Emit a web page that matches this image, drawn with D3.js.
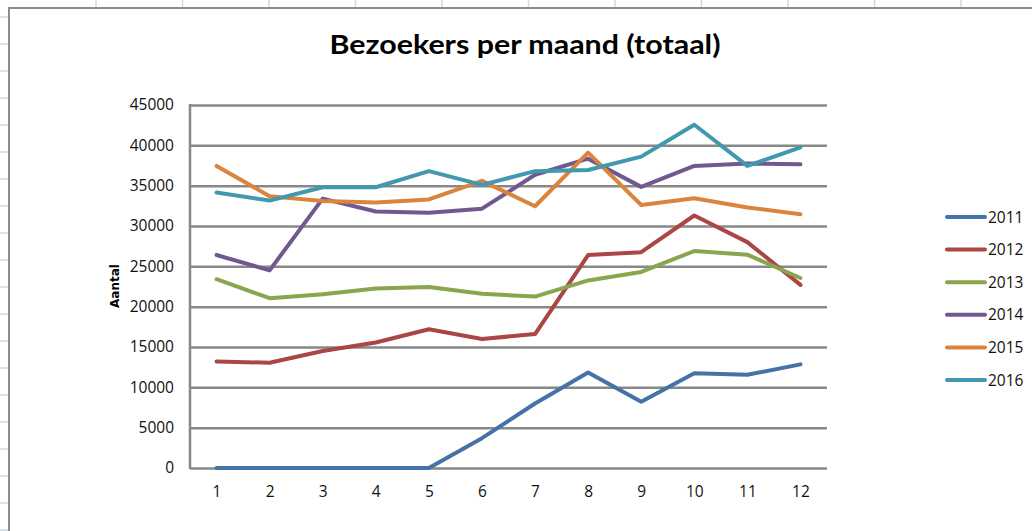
<!DOCTYPE html>
<html>
<head>
<meta charset="utf-8">
<script src="https://cdn.jsdelivr.net/npm/d3@7"></script>
<style>
  body { margin: 0; background: #fff; }
  svg { display: block; }
</style>
</head>
<body>
<svg id="CHART" width="1032" height="531"></svg>
<script>
let d3 = window.d3;

// data
const months = [1, 2, 3, 4, 5, 6, 7, 8, 9, 10, 11, 12];
const years = ["2011", "2012", "2013", "2014", "2015", "2016"];
const v2011 = [0, 0, 0, 0, 0, 3700, 8000, 11850, 8200, 11750, 11550, 12850];
const v2012 = [13200, 13050, 14500, 15550, 17200, 16000, 16600, 26400, 26750, 31300, 28000, 22700];
const v2013 = [23400, 21050, 21550, 22250, 22450, 21600, 21250, 23250, 24300, 26900, 26450, 23550];
const v2014 = [26400, 24500, 33400, 31800, 31650, 32150, 36350, 38350, 34850, 37450, 37750, 37650];
const v2015 = [37450, 33700, 33100, 32900, 33300, 35600, 32450, 39100, 32600, 33450, 32300, 31450];
const v2016 = [34150, 33150, 34800, 34800, 36800, 35100, 36800, 36950, 38600, 42550, 37450, 39750];
const yTicks = [0, 5000, 10000, 15000, 20000, 25000, 30000, 35000, 40000, 45000];

const series = [v2011, v2012, v2013, v2014, v2015, v2016];
const colors = ["#4572A7", "#AA4643", "#89A54E", "#71588F", "#DB843D", "#4198AF"];

const PLOT = { LEFT: 190, RIGHT: 827, TOP: 105, BOTTOM: 468 };
const FONT = "'Open Sans', 'DejaVu Sans', sans-serif";

let svg = d3.select("#CHART");

// spreadsheet behind the chart
let sheet = svg.append("g").attr("stroke", "#d0d7e5").attr("stroke-width", 1.5);
d3.range(17, 531, 27).forEach(y => {
  sheet.append("line").attr("x1", 0).attr("x2", 8).attr("y1", y).attr("y2", y);
});
d3.range(96, 1032, 86.5).forEach(x => {
  sheet.append("line").attr("x1", x).attr("x2", x).attr("y1", 0).attr("y2", 7);
});

// chart frame
svg.append("rect")
  .attr("x", 9).attr("y", 8).attr("width", 1040).attr("height", 540)
  .attr("fill", "#fff").attr("stroke", "#8c8c8c").attr("stroke-width", 2);

// title
svg.append("text")
  .attr("x", 525).attr("y", 54)
  .attr("text-anchor", "middle")
  .attr("font-family", "Lato, 'Open Sans', sans-serif")
  .attr("font-weight", "bold")
  .attr("font-size", 27)
  .attr("textLength", 391)
  .attr("lengthAdjust", "spacingAndGlyphs")
  .text("Bezoekers per maand (totaal)");

let xScale = d3.scalePoint()
  .domain(months)
  .range([PLOT.LEFT, PLOT.RIGHT])
  .padding(0.5);

let yScale = d3.scaleLinear()
  .domain([0, 45000])
  .range([PLOT.BOTTOM, PLOT.TOP]);

// y axis with gridlines
let yAxis = d3.axisLeft(yScale)
  .tickValues(yTicks)
  .tickSize(-(PLOT.RIGHT - PLOT.LEFT))
  .tickPadding(16)
  .tickFormat(d3.format("d"));

let yG = svg.append("g")
  .attr("transform", "translate(" + PLOT.LEFT + ",0)")
  .call(yAxis);
yG.select(".domain").remove();
yG.selectAll(".tick line").attr("stroke", "#888").attr("stroke-width", 2.5);
yG.selectAll(".tick text")
  .attr("font-family", FONT).attr("font-size", 15.5).attr("fill", "#111");

// vertical axis line
svg.append("line")
  .attr("x1", PLOT.LEFT).attr("x2", PLOT.LEFT)
  .attr("y1", PLOT.TOP - 1).attr("y2", PLOT.BOTTOM + 1)
  .attr("stroke", "#888").attr("stroke-width", 2.5);

// x axis labels
let xG = svg.append("g")
  .attr("transform", "translate(0," + PLOT.BOTTOM + ")")
  .call(d3.axisBottom(xScale).tickSize(0).tickPadding(18));
xG.select(".domain").remove();
xG.selectAll(".tick text")
  .attr("font-family", FONT).attr("font-size", 15.5).attr("fill", "#111");

// y axis title
svg.append("text")
  .attr("transform", "translate(114.5,286) rotate(-90)")
  .attr("text-anchor", "middle")
  .attr("dy", "0.35em")
  .attr("font-family", "'DejaVu Sans', sans-serif")
  .attr("font-weight", "bold")
  .attr("font-size", 12)
  .text("Aantal");

// lines
let line = d3.line()
  .x((d, i) => xScale(months[i]))
  .y(d => yScale(d));

svg.append("g").selectAll("path")
  .data(series)
  .enter()
  .append("path")
  .attr("d", d => line(d))
  .attr("fill", "none")
  .attr("stroke", (d, i) => colors[i])
  .attr("stroke-width", 4)
  .attr("stroke-linejoin", "round")
  .attr("stroke-linecap", "round");

// legend
let legend = svg.append("g").selectAll("g")
  .data(years)
  .enter()
  .append("g")
  .attr("transform", (d, i) => "translate(947," + (217 + i * 32.6) + ")");

legend.append("line")
  .attr("x1", 0).attr("x2", 38)
  .attr("stroke", (d, i) => colors[i])
  .attr("stroke-width", 4)
  .attr("stroke-linecap", "round");

legend.append("text")
  .attr("x", 41).attr("dy", "0.36em")
  .attr("font-family", FONT).attr("font-size", 15.5).attr("fill", "#111")
  .text(d => d);
</script>
</body>
</html>
